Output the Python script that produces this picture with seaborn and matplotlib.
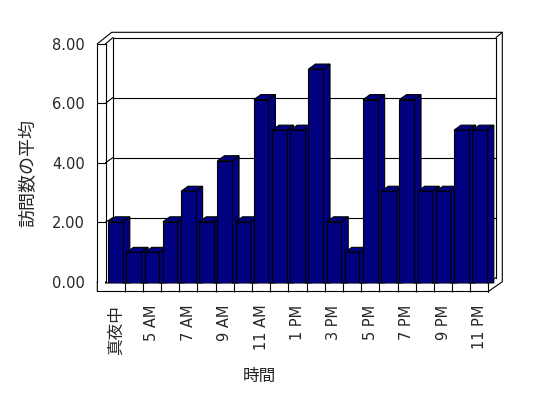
import matplotlib
matplotlib.use("Agg")
import matplotlib.pyplot as plt
from matplotlib.patches import Polygon
import seaborn as sns

# data
hours = ["真夜中", "4 AM", "5 AM", "6 AM", "7 AM", "8 AM", "9 AM", "10 AM", "11 AM",
         "12 PM", "1 PM", "2 PM", "3 PM", "4 PM", "5 PM", "6 PM", "7 PM", "8 PM",
         "9 PM", "10 PM", "11 PM"]
visits = [2, 1, 1, 2, 3, 2, 4, 2, 6, 5, 5, 7, 2, 1, 6, 3, 6, 3, 3, 5, 5]
y_ticks = [0, 2, 4, 6, 8]

sns.set_style("white")
plt.rcParams["font.family"] = ["DejaVu Sans", "Noto Sans CJK JP"]

NAVY = "#000080"
LW = 0.8
W, H = 548, 398
fig = plt.figure(figsize=(W / 100, H / 100), dpi=100)


def box(x0, y0, x1, y1):
    # pixel box (top-left origin) -> figure fraction rect
    return [x0 / W, 1 - y1 / H, (x1 - x0) / W, (y1 - y0) / H]


# pixel frame for the pseudo-3D walls
fr = fig.add_axes([0, 0, 1, 1], zorder=0)
fr.set_xlim(0, W)
fr.set_ylim(H, 0)
fr.axis("off")

# back wall with gridlines
wall = fig.add_axes(box(113, 37.5, 496, 277.5), zorder=1)
wall.set_xlim(0, 1)
wall.set_ylim(0, 8)
wall.set_xticks([])
wall.set_yticks(y_ticks[1:-1])
wall.tick_params(length=0, labelleft=False)
wall.grid(axis="y", color="black", lw=LW)
wall.patch.set_alpha(0)
wall.spines["bottom"].set_visible(False)
for s in ["top", "left", "right"]:
    wall.spines[s].set_color("black")
    wall.spines[s].set_linewidth(LW)

# left wall front face carries the value axis
side = fig.add_axes(box(97.3, 43.8, 105.5, 281.8), zorder=1)
side.set_xlim(0, 1)
side.set_ylim(0, 8)
side.set_xticks([])
side.set_yticks(y_ticks)
side.set_yticklabels([f"{v:.2f}" for v in y_ticks], fontsize=10.5)
side.tick_params(axis="y", length=0, pad=8.9)
side.patch.set_alpha(0)
side.spines["bottom"].set_visible(False)
for s in ["top", "left", "right"]:
    side.spines[s].set_color("black")
    side.spines[s].set_linewidth(LW)
for v in y_ticks[1:-1]:
    side.axhline(v, color="black", lw=LW)
side.set_ylabel("訪問数の平均", fontsize=13)
side.yaxis.set_label_coords(28 / W, 1 - 173 / H, transform=fig.transFigure)
side.yaxis.label.set_va("center")

# connect left-wall gridlines to back-wall gridlines
inv = fr.transData.inverted()
for v in y_ticks[1:]:
    p1 = inv.transform(side.transData.transform((1, v)))
    p2 = inv.transform(wall.transData.transform((0, v)))
    fr.plot([p1[0], p2[0]], [p1[1], p2[1]], color="black", lw=LW)

# outer frame, floor and wall edges
fr.plot([97.3, 97.3, 488.3, 502.3, 502.3, 111.7, 97.3],
        [281.8, 291.5, 291.5, 281.7, 32.3, 32.3, 43.8], color="black", lw=LW)
fr.plot([105.5, 105.5, 488.3, 496], [281.8, 283, 283, 277.5], color="black", lw=LW)
fr.plot([488.3, 488.3], [283, 291.5], color="black", lw=LW)
fr.plot([496, 502.3], [37.5, 32.3], color="black", lw=LW)

# bars (front plane)
ax = fig.add_axes(box(106.45, 38.5, 488.65, 282.9), zorder=2)
sns.barplot(x=hours, y=visits, color=NAVY, saturation=1, width=0.8,
            edgecolor="black", linewidth=LW, ax=ax)
ax.set_xlim(-0.5, len(hours) - 0.5)
ax.set_ylim(0, 8)
ax.patch.set_alpha(0)
for s in ax.spines.values():
    s.set_visible(False)
ax.set_yticks([])

# depth faces of each bar
bb = ax.get_window_extent()
ddx = 7 * len(hours) / bb.width
ddy = 5 * 8 / bb.height
for i, p in enumerate(ax.patches):
    x0 = p.get_x()
    x1 = x0 + p.get_width()
    h = p.get_height()
    p.set_zorder(3 + i)
    top = Polygon([(x0, h), (x1, h), (x1 + ddx, h + ddy), (x0 + ddx, h + ddy)],
                  closed=True, fc=NAVY, ec="black", lw=LW, zorder=2.5 + i, clip_on=False)
    sd = Polygon([(x1, 0), (x1, h), (x1 + ddx, h + ddy), (x1 + ddx, 0)],
                 closed=True, fc=NAVY, ec="black", lw=LW, zorder=2.5 + i, clip_on=False)
    ax.add_patch(sd)
    ax.add_patch(top)

# floor front face category dividers
fl = (291.5 - 282.9) / bb.height
ax.vlines([k + 0.5 for k in range(len(hours) - 1)], -fl, 0, color="black", lw=LW,
          transform=ax.get_xaxis_transform(), clip_on=False)

ax.set_xticks(range(len(hours)))
ax.set_xticklabels([h if i % 2 == 0 else "" for i, h in enumerate(hours)],
                   rotation=90, fontsize=10.5)
ax.get_xticklabels()[0].set_fontsize(12)
ax.tick_params(axis="x", length=0, pad=15.8)
ax.set_xlabel("時間", fontsize=12)
ax.xaxis.set_label_coords(259 / W, 1 - 376 / H, transform=fig.transFigure)
ax.xaxis.label.set_va("center")

fig.savefig("out.png", dpi=100)
